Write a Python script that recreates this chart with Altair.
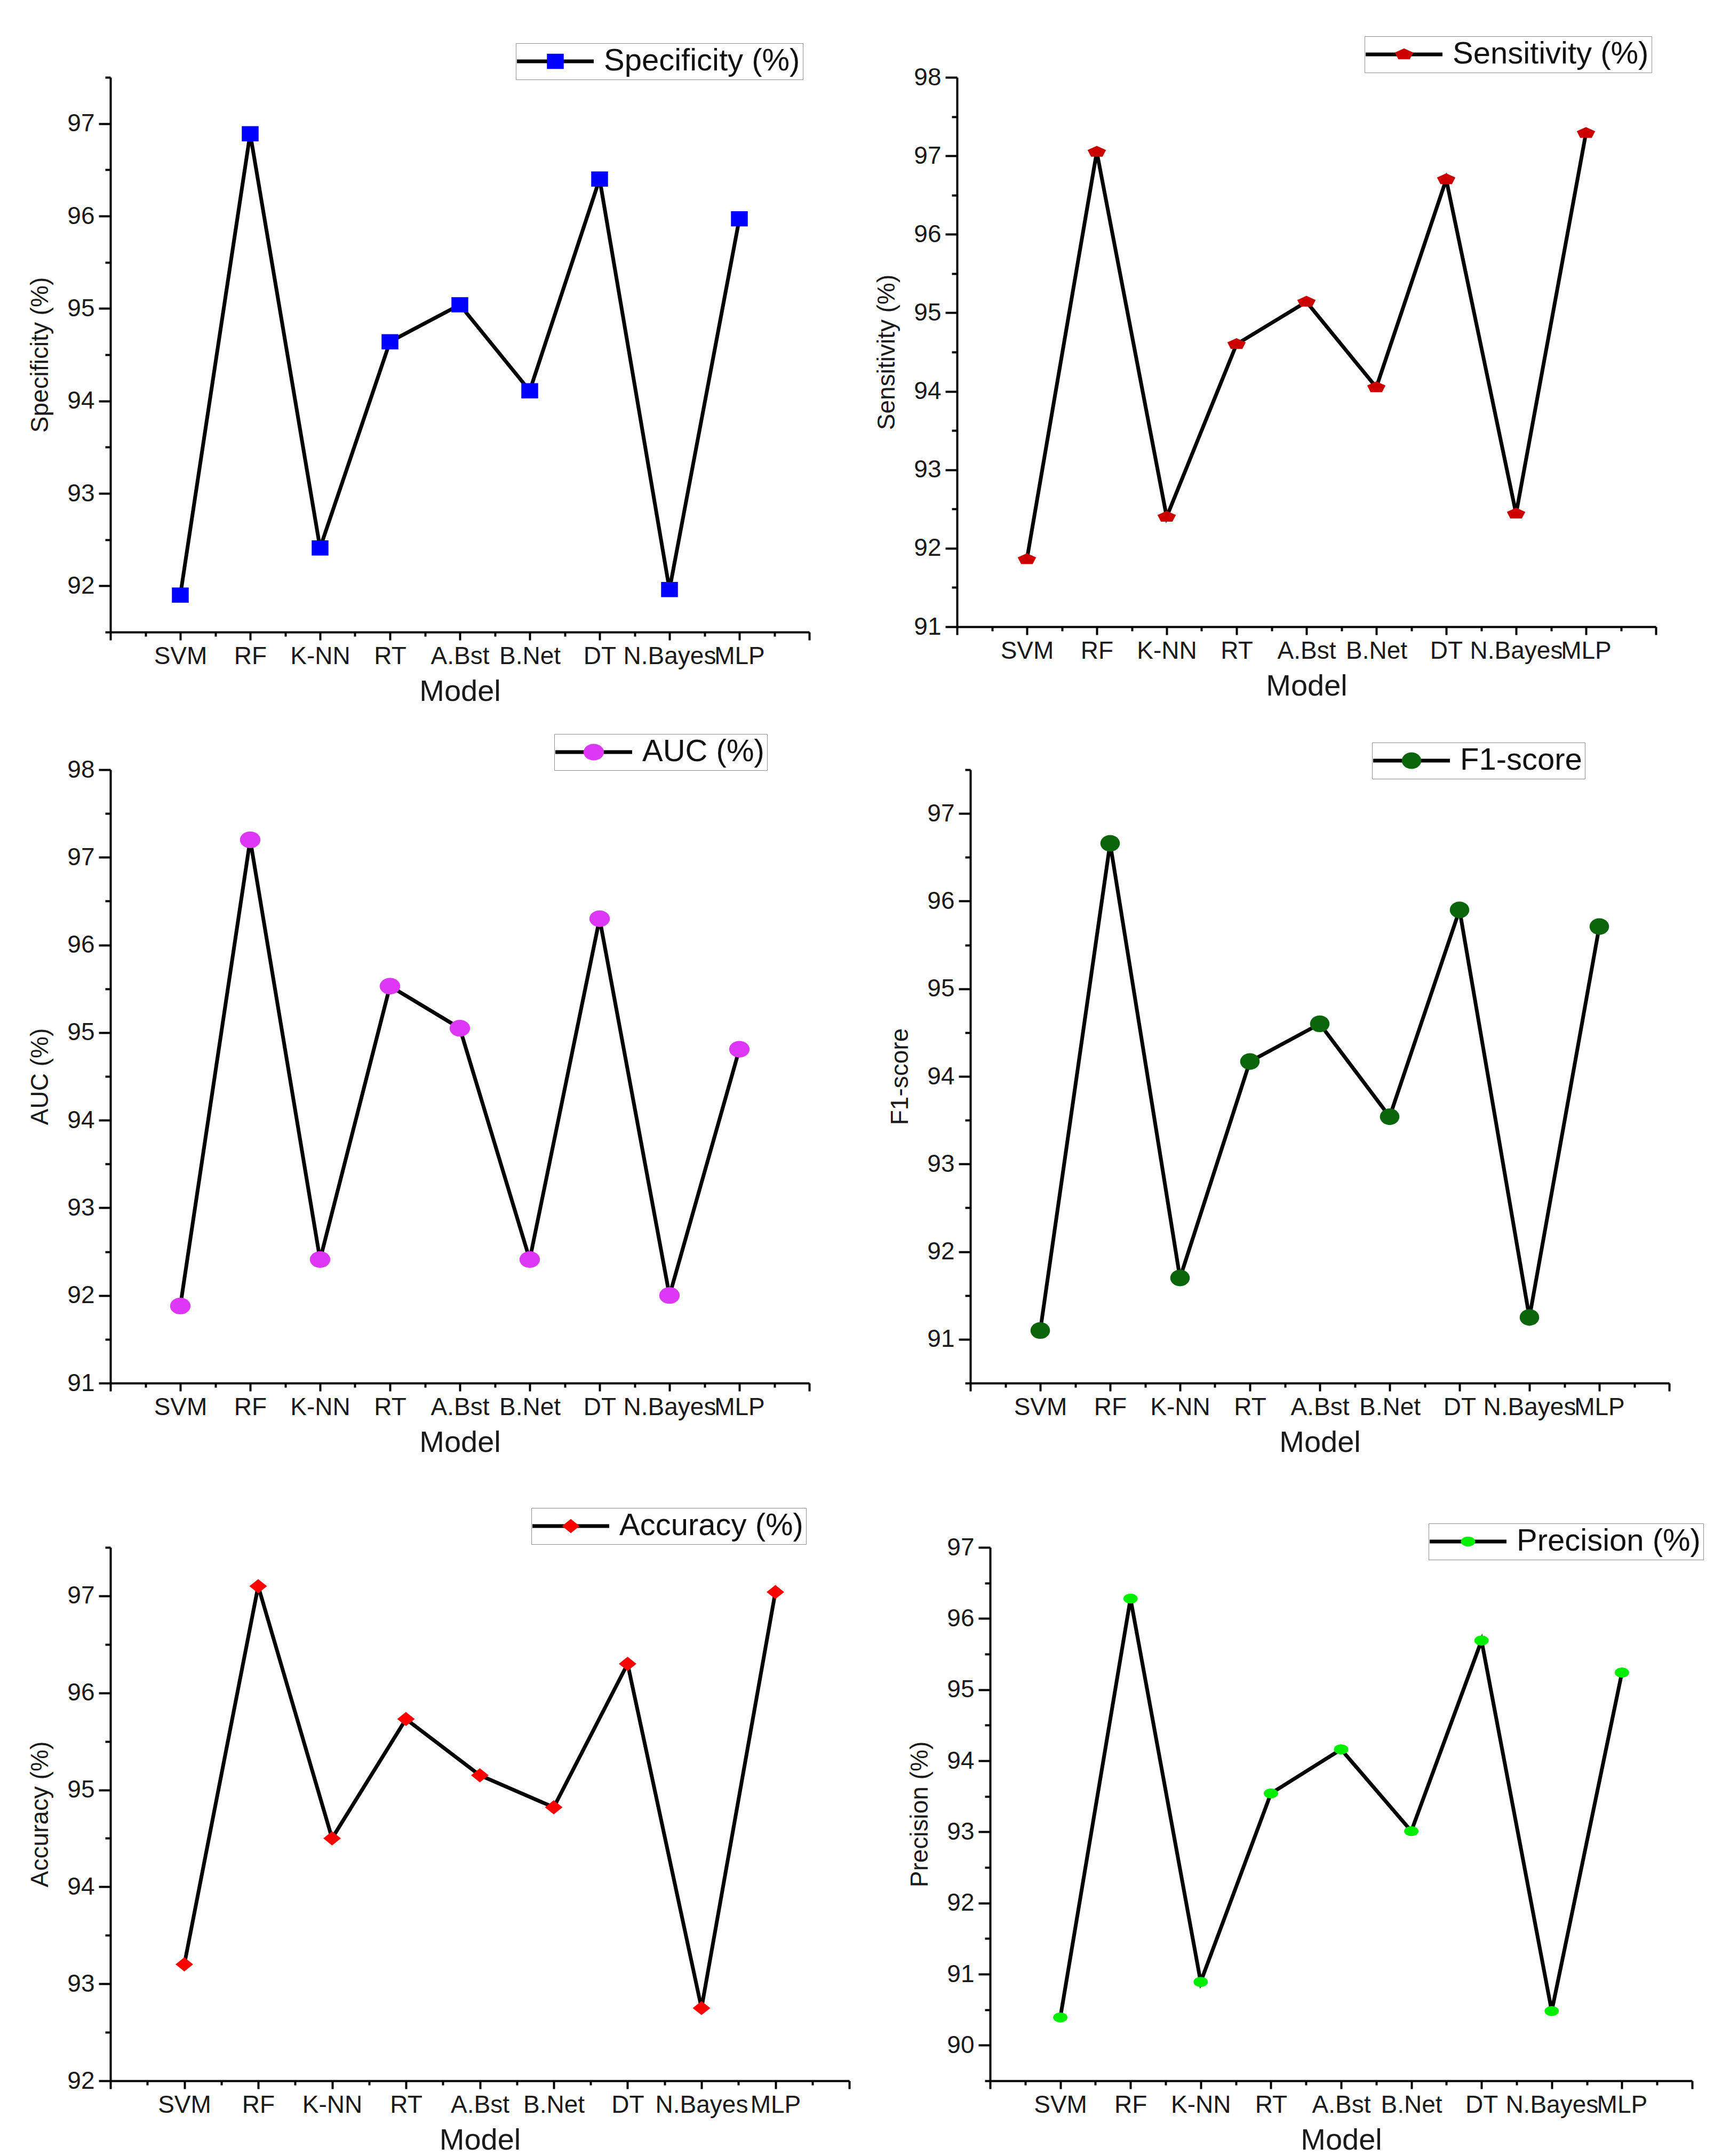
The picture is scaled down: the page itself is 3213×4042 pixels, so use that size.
import altair as alt
import pandas as pd

# ---------------- data ----------------
models = ["SVM", "RF", "K-NN", "RT", "A.Bst", "B.Net", "DT", "N.Bayes", "MLP"]
specificity = [91.90, 96.89, 92.41, 94.64, 95.04, 94.11, 96.40, 91.96, 95.97]
sensitivity = [91.86, 97.05, 92.40, 94.60, 95.14, 94.05, 96.70, 92.44, 97.29]
auc = [91.88, 97.20, 92.41, 95.53, 95.05, 92.41, 96.30, 92.00, 94.81]
f1_score = [91.10, 96.66, 91.70, 94.17, 94.60, 93.54, 95.90, 91.25, 95.71]
accuracy = [93.20, 97.10, 94.50, 95.73, 95.15, 94.82, 96.30, 92.75, 97.04]
precision = [90.39, 96.28, 90.89, 93.54, 94.16, 93.01, 95.69, 90.48, 95.24]

FONT = "Liberation Sans, Arial, sans-serif"
TITLE_Y_FONT = "Liberation Sans Narrow, Arial Narrow, Liberation Sans, sans-serif"
MSIZE = 900  # symbol size; shapes scaled in the paths below (unit = 15 px)

LINE_PATH = "M-4.8,0H4.8"
SQUARE = "M-1.05,-0.95H1.05V0.95H-1.05Z"
PENTAGON = "M0,-0.75L1.15,-0.23L0.72,0.6L-0.72,0.6L-1.15,-0.23Z"
ELL_AUC = "M-1.28,0A1.28,1.04,0,1,1,1.28,0A1.28,1.04,0,1,1,-1.28,0Z"
ELL_F1 = "M-1.22,0A1.22,1.04,0,1,1,1.22,0A1.22,1.04,0,1,1,-1.22,0Z"
DIAMOND = "M-1.1,0L0,-0.88L1.1,0L0,0.88Z"
ELL_PREC = "M-0.9,0A0.9,0.62,0,1,1,0.9,0A0.9,0.62,0,1,1,-0.9,0Z"

names_js = "[" + ",".join("'" + m + "'" for m in models) + "]"
x_label_expr = ("datum.value % 1 === 0 && datum.value >= 1 && datum.value <= "
                + str(len(models)) + " ? " + names_js + "[datum.value - 1] : ''")
y_label_expr = "datum.value % 1 === 0 ? format(datum.value, 'd') : ''"
major_test = "datum.value % 1 === 0"


def panel(values, label, ytitle, color, shape, ydom, lx, ly, width, height):
    df = pd.DataFrame({
        "idx": list(range(1, len(models) + 1)),
        "model": models,
        "value": values,
        "series": [label] * len(models),
    })
    xvals = [i * 0.5 for i in range(0, 2 * (len(models) + 1) + 1)]
    n = int(round((ydom[1] - ydom[0]) / 0.5))
    yvals = [round(ydom[0] + 0.5 * i, 1) for i in range(n + 1)]

    x = alt.X("idx:Q",
              scale=alt.Scale(domain=[0, len(models) + 1], nice=False, zero=False),
              axis=alt.Axis(values=xvals, labelExpr=x_label_expr, title="Model",
                            labelOverlap=False, labelFlush=False, labelBound=False,
                            tickSize={"condition": {"test": major_test, "value": 15}, "value": 8},
                            labelPadding=8, titlePadding=16, grid=False))
    y = alt.Y("value:Q",
              scale=alt.Scale(domain=ydom, nice=False, zero=False),
              axis=alt.Axis(values=yvals, labelExpr=y_label_expr,
                            labelOverlap=False, labelFlush=False,
                            tickSize={"condition": {"test": major_test, "value": 22}, "value": 10},
                            title=ytitle, titleFont=TITLE_Y_FONT, titleFontSize=46,
                            labelPadding=8, titlePadding=26, grid=False))

    leg_common = dict(orient="none", legendX=lx, legendY=ly, title=None,
                      symbolSize=MSIZE, labelFontSize=58, labelFont=FONT,
                      labelLimit=3000, padding=5, labelOffset=62, symbolOffset=40)

    base = alt.Chart(df)
    line = base.mark_line(strokeWidth=7).encode(
        x=x, y=y,
        stroke=alt.Stroke("series:N", scale=alt.Scale(range=["black"]),
                          legend=alt.Legend(symbolType=LINE_PATH, symbolStrokeWidth=7,
                                            strokeColor="#8c8c8c", labelColor="#111111",
                                            zindex=0, **leg_common)),
    )
    pts = base.mark_point(filled=True, shape=shape, size=MSIZE, opacity=1).encode(
        x=x, y=y,
        fill=alt.Fill("series:N", scale=alt.Scale(range=[color]),
                      legend=alt.Legend(symbolType=shape, symbolStrokeWidth=0,
                                        labelOpacity=0, zindex=1, **leg_common)),
    )
    return alt.layer(line, pts).properties(width=width, height=height)


p1 = panel(specificity, "Specificity (%)", "Specificity (%)", "#0000FF", SQUARE,
           [91.5, 97.5], 760, -64, 1310, 1040)
p2 = panel(sensitivity, "Sensitivity (%)", "Sensitivity (%)", "#CC0000", PENTAGON,
           [91, 98], 764, -77, 1310, 1030)
p3 = panel(auc, "AUC (%)", "AUC (%)", "#DD38F8", ELL_AUC,
           [91, 98], 832, -67, 1310, 1150)
p4 = panel(f1_score, "F1-score", "F1-score", "#0B650B", ELL_F1,
           [90.5, 97.5], 753, -51, 1310, 1150)
p5 = panel(accuracy, "Accuracy (%)", "Accuracy (%)", "#FF0000", DIAMOND,
           [92, 97.5], 789, -74, 1385, 1000)
p6 = panel(precision, "Precision (%)", "Precision (%)", "#00EE00", ELL_PREC,
           [89.5, 97], 822, -45, 1316, 1000)


def row(a, b, sp):
    return alt.hconcat(a, b, spacing=sp).resolve_scale(
        fill="independent", stroke="independent").resolve_legend(
        fill="independent", stroke="independent")


lower = alt.vconcat(row(p3, p4, 145), row(p5, p6, 107), spacing=94).resolve_scale(
    fill="independent", stroke="independent").resolve_legend(
    fill="independent", stroke="independent")

chart = alt.vconcat(
    row(p1, p2, 120), lower, spacing=51,
).resolve_scale(
    fill="independent", stroke="independent"
).resolve_legend(
    fill="independent", stroke="independent"
).properties(
    padding={"top": 59, "left": 44, "right": 5, "bottom": 5},
    background="white",
).configure_view(stroke=None).configure_axis(
    domainColor="black", domainWidth=4, tickColor="black", tickWidth=4,
    labelFont=FONT, labelFontSize=46, labelColor="#1a1a1a",
    titleFont=FONT, titleFontSize=56, titleColor="#1a1a1a", titleFontWeight="normal",
)

chart.save("out.html", embed_options={"renderer": "svg", "actions": False})
